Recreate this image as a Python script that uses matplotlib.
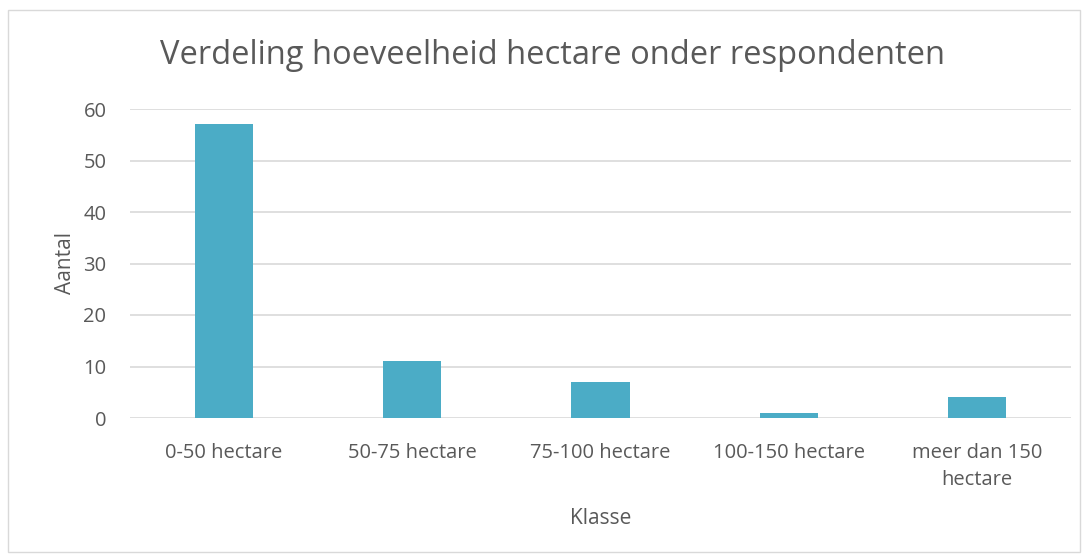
import matplotlib
matplotlib.use("Agg")
import matplotlib.pyplot as plt
from matplotlib.patches import Rectangle

# Data
categories = ["0-50 hectare", "50-75 hectare", "75-100 hectare", "100-150 hectare", "meer dan 150\nhectare"]
counts = [57, 11, 7, 1, 4]
yticks = [0, 10, 20, 30, 40, 50, 60]

text_color = "#595959"
plt.rcParams["font.family"] = ["Open Sans", "DejaVu Sans"]

fig = plt.figure(figsize=(10.87, 5.59), dpi=100)
ax = fig.add_axes([130 / 1087, 1 - 418 / 559, 941 / 1087, (418 - 109) / 559])

# outer chart border
fig.patches.append(Rectangle((8 / 1087, 1 - 552 / 559), 1072 / 1087, 542 / 559,
                             transform=fig.transFigure, fill=False,
                             edgecolor="#D9D9D9", linewidth=1))

x = range(len(categories))
ax.bar(x, counts, width=0.31, color="#4BACC6", zorder=3)

ax.set_xlim(-0.5, len(categories) - 0.5)
ax.set_ylim(0, 60)
ax.set_yticks(yticks)
ax.set_xticks(list(x))
ax.set_xticklabels(categories, fontsize=14.5, color=text_color, linespacing=1.45)
ax.tick_params(axis="y", labelsize=14.5, labelcolor=text_color, length=0, pad=17)
ax.tick_params(axis="x", length=0, pad=18)
ax.grid(axis="y", color="#D9D9D9", linewidth=1.2, zorder=0)
for s in ax.spines.values():
    s.set_visible(False)

ax.set_ylabel("Aantal", fontsize=15, color=text_color, labelpad=5)
ax.set_xlabel("Klasse", fontsize=15, color=text_color, labelpad=13)
fig.text(553 / 1087, 1 - 55 / 559, "Verdeling hoeveelheid hectare onder respondenten",
         ha="center", va="center", fontsize=23.5, color=text_color)

fig.savefig("out.png", dpi=100)
